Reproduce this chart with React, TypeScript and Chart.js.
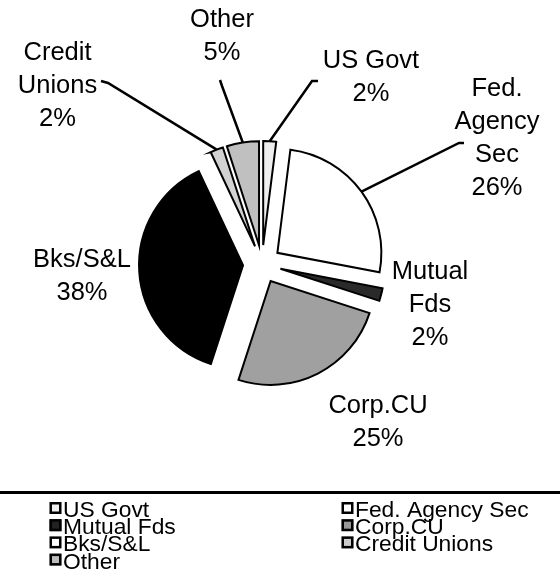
import React, { useEffect, useRef } from "react";
import { Chart, registerables } from "chart.js";

Chart.register(...registerables);

// ---------- data ----------
const categories = ["US Govt", "Fed. Agency Sec", "Mutual Fds", "Corp.CU", "Bks/S&L", "Credit Unions", "Other"];
const shares = [2, 26, 2, 25, 38, 2, 5];
const sliceLabelLines = [["US Govt"], ["Fed.", "Agency", "Sec"], ["Mutual", "Fds"], ["Corp.CU"], ["Bks/S&L"], ["Credit", "Unions"], ["Other"]];

// ---------- styles ----------
const sliceColors = ["#efefef", "#ffffff", "#2a2a2a", "#a0a0a0", "#000000", "#d2d2d2", "#c0c0c0"];
const legendColors = ["#eeeeee", "#ffffff", "#222222", "#999999", "#ffffff", "#cccccc", "#bbbbbb"];

// ---------- layout ----------
const RADIUS = 104;
const EXPLODE = 19;
const LABEL_FONT = 25.5;
const LABEL_LINE = 33;
const FONT_FAMILY = '"Liberation Sans", Arial, sans-serif';
const labelAnchors = [
  { x: 371, y: 68 },
  { x: 497, y: 96 },
  { x: 430, y: 279 },
  { x: 378, y: 413 },
  { x: 82, y: 267 },
  { x: 57.5, y: 60 },
  { x: 222, y: 27 },
];
const leaderStarts: (number[][] | null)[] = [
  [[318, 81], [312, 81]],
  [[464, 143], [459, 143]],
  null,
  null,
  null,
  [[101, 81], [108, 83]],
  [[220, 80], [222, 86]],
];
const LEGEND_FONT = 22.8;
const LEGEND_ROW0 = 517;
const LEGEND_ROW_STEP = 17.2;
const LEGEND_COLS = [{ box: 49.5, text: 63 }, { box: 341.5, text: 355 }];
const RULE_Y = 491;

const decorPlugin = {
  id: "decor",
  afterDatasetUpdate(chart: any) {
    const meta = chart.getDatasetMeta(0);
    const cx = (chart.chartArea.left + chart.chartArea.right) / 2;
    const cy = (chart.chartArea.top + chart.chartArea.bottom) / 2;
    meta.data.forEach((arc: any) => {
      const mid = (arc.startAngle + arc.endAngle) / 2;
      arc.x = cx + Math.cos(mid) * EXPLODE;
      arc.y = cy + Math.sin(mid) * EXPLODE;
    });
  },
  afterDraw(chart: any) {
    const ctx: CanvasRenderingContext2D = chart.ctx;
    const meta = chart.getDatasetMeta(0);
    ctx.save();
    // leader lines
    ctx.strokeStyle = "#000";
    ctx.lineWidth = 2.5;
    ctx.lineJoin = "miter";
    meta.data.forEach((arc: any, i: number) => {
      const pts = leaderStarts[i];
      if (!pts) return;
      const mid = (arc.startAngle + arc.endAngle) / 2;
      const ex = arc.x + Math.cos(mid) * arc.outerRadius;
      const ey = arc.y + Math.sin(mid) * arc.outerRadius;
      ctx.beginPath();
      ctx.moveTo(pts[0][0], pts[0][1]);
      for (let k = 1; k < pts.length; k++) ctx.lineTo(pts[k][0], pts[k][1]);
      ctx.lineTo(ex, ey);
      ctx.stroke();
    });
    // slice labels
    ctx.fillStyle = "#000";
    ctx.font = `${LABEL_FONT}px ${FONT_FAMILY}`;
    ctx.textAlign = "center";
    ctx.textBaseline = "alphabetic";
    const total = shares.reduce((a, b) => a + b, 0);
    sliceLabelLines.forEach((lines, i) => {
      const pct = Math.round((shares[i] / total) * 100) + "%";
      const all = [...lines, pct];
      all.forEach((t, k) => ctx.fillText(t, labelAnchors[i].x, labelAnchors[i].y + k * LABEL_LINE));
    });
    // rule
    ctx.fillStyle = "#000";
    ctx.fillRect(0, RULE_Y, chart.width, 3);
    // legend
    ctx.font = `${LEGEND_FONT}px ${FONT_FAMILY}`;
    ctx.textAlign = "left";
    categories.forEach((name, i) => {
      const col = LEGEND_COLS[i % 2];
      const base = LEGEND_ROW0 + Math.floor(i / 2) * LEGEND_ROW_STEP;
      const by = base - 15;
      ctx.fillStyle = legendColors[i];
      ctx.fillRect(col.box, by, 12, 12);
      ctx.strokeStyle = "#000";
      ctx.lineWidth = 2.5;
      ctx.strokeRect(col.box + 1.25, by + 1.25, 9.5, 9.5);
      ctx.fillStyle = "#000";
      ctx.fillText(name, col.text, base);
    });
    ctx.restore();
  },
};

export default function App() {
  const ref = useRef<HTMLCanvasElement>(null);
  useEffect(() => {
    document.body.style.margin = "0";
    const chart = new Chart(ref.current as HTMLCanvasElement, {
      type: "pie",
      data: {
        labels: categories,
        datasets: [
          {
            data: shares,
            backgroundColor: sliceColors,
            borderColor: "#000",
            borderWidth: 2,
            borderJoinStyle: "miter",
            hoverOffset: 0,
            offset: 0,
          } as any,
        ],
      },
      options: {
        responsive: false,
        animation: false,
        radius: RADIUS,
        rotation: 0,
        layout: { padding: { left: 0, top: 0, right: 36, bottom: 56 } },
        plugins: { legend: { display: false }, tooltip: { enabled: false } },
        events: [],
      } as any,
      plugins: [decorPlugin],
    });
    return () => chart.destroy();
  }, []);
  return (
    <div style={{ width: 560, height: 584 }}>
      <canvas ref={ref} width={560} height={584} style={{ display: "block" }} />
    </div>
  );
}
